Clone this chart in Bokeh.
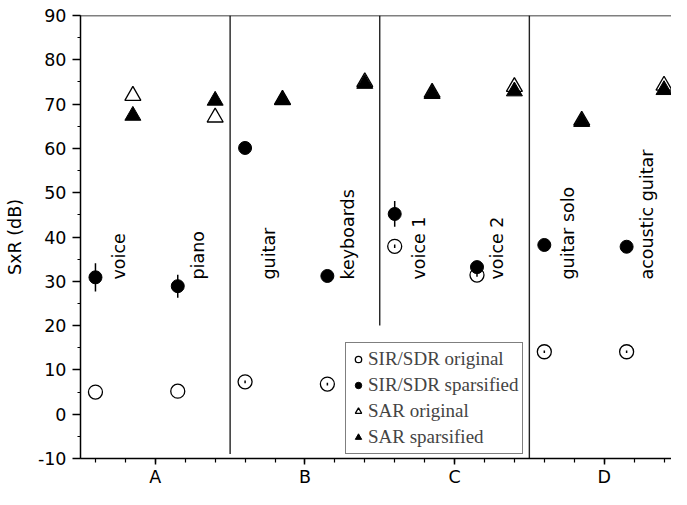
import math
from bokeh.plotting import figure
from bokeh.models import (ColumnDataSource, FixedTicker, SingleIntervalTicker,
                          Span, Legend, LegendItem)
from bokeh.core.properties import value
from bokeh.embed import file_html
from bokeh.resources import INLINE

# ---------------- data ----------------
groups = ["A", "B", "C", "D"]
instruments = ["voice", "piano", "guitar", "keyboards",
               "voice 1", "voice 2", "guitar solo", "acoustic guitar"]
instrument_group = [0, 0, 1, 1, 2, 2, 3, 3]
instrument_slot = [0, 1, 0, 1, 0, 1, 0, 1]

sdr_original = [5.0, 5.2, 7.3, 6.8, 37.9, 31.4, 14.1, 14.1]
sdr_original_err = [0.0, 0.0, 0.3, 0.3, 0.4, 0.4, 0.3, 0.3]
sdr_sparsified = [30.9, 28.9, 60.1, 31.2, 45.2, 33.2, 38.2, 37.8]
sdr_sparsified_err = [3.2, 2.6, 0.8, 0.8, 2.9, 0.8, 0.8, 0.8]
sar_original = [71.9, 67.0, 71.0, 75.0, 72.6, 73.9, 66.3, 74.2]
sar_sparsified = [67.4, 70.8, 70.9, 74.6, 72.3, 72.9, 66.0, 73.2]

divider_x = [1.5, 2.5, 3.5]
divider_bottom = [-9, 20, -10]
divider_top = [90, 90, 90]

# ---------------- layout constants ----------------
CIRCLE_OFF = [-0.4, 0.15]
TRI_OFF = [-0.15, 0.4]
LABEL_OFF = [-0.24, 0.285]
LABEL_Y = 30.4
FONT = "DejaVu Sans"
FS = "17.5px"

gx = [g + 1 for g in instrument_group]
cx = [g + CIRCLE_OFF[s] for g, s in zip(gx, instrument_slot)]
tx = [g + TRI_OFF[s] for g, s in zip(gx, instrument_slot)]
lx = [g + LABEL_OFF[s] for g, s in zip(gx, instrument_slot)]

src = ColumnDataSource(dict(
    cx=cx, tx=tx, lx=lx, ly=[LABEL_Y] * len(instruments), name=instruments,
    so=sdr_original, ss=sdr_sparsified, ao=sar_original, as_=sar_sparsified,
    so_lo=[v - e for v, e in zip(sdr_original, sdr_original_err)],
    so_hi=[v + e for v, e in zip(sdr_original, sdr_original_err)],
    ss_lo=[v - e for v, e in zip(sdr_sparsified, sdr_sparsified_err)],
    ss_hi=[v + e for v, e in zip(sdr_sparsified, sdr_sparsified_err)],
))
div_src = ColumnDataSource(dict(x=divider_x, y0=divider_bottom, y1=divider_top))

p = figure(width=671, height=489, output_backend="svg", toolbar_location=None,
           x_range=(0.5, 4.45), y_range=(-10, 90),
           min_border_left=80, min_border_right=0, min_border_top=15,
           min_border_bottom=28)
p.outline_line_color = None
p.xgrid.grid_line_color = None
p.ygrid.grid_line_color = None
p.background_fill_color = "white"
p.border_fill_color = "white"

# dividers
p.segment(x0="x", y0="y0", x1="x", y1="y1", source=div_src,
          line_color="#222222", line_width=1.4)
p.add_layout(Span(location=90, dimension="width", line_color="black", line_width=1.5))

# markers
r_so = p.scatter("cx", "so", source=src, marker="circle", size=14,
                 fill_color=None, line_color="black", line_width=1.3)
p.segment(x0="cx", y0="so_lo", x1="cx", y1="so_hi", source=src,
          line_color="black", line_width=1.5)
p.segment(x0="cx", y0="ss_lo", x1="cx", y1="ss_hi", source=src,
          line_color="black", line_width=1.5)
r_ss = p.scatter("cx", "ss", source=src, marker="circle", size=13,
                 fill_color="black", line_color="black")
r_ao = p.scatter("tx", "ao", source=src, marker="triangle", size=16,
                 fill_color="white", line_color="black", line_width=1.3)
r_as = p.scatter("tx", "as_", source=src, marker="triangle", size=16,
                 fill_color="black", line_color="black")

p.text(x="lx", y="ly", text="name", source=src, angle=math.pi / 2,
       text_align="left", text_baseline="middle",
       text_font=value(FONT), text_font_size=FS, text_color="black")

# axes
xa = p.xaxis[0]
xa.ticker = FixedTicker(ticks=[1, 2, 3, 4],
                        minor_ticks=[round(0.6 + 0.2 * i, 2) for i in range(20)])
xa.major_label_overrides = {i + 1: g for i, g in enumerate(groups)}
ya = p.yaxis[0]
ya.ticker = SingleIntervalTicker(interval=10, num_minor_ticks=2)
ya.major_label_overrides = {-10: "-10"}
ya.axis_label = "SxR (dB)"
ya.axis_label_text_font_style = "normal"
ya.axis_label_standoff = 10
for ax in (xa, ya):
    ax.axis_line_width = 1.5
    ax.axis_line_color = "black"
    ax.major_tick_line_width = 1.5
    ax.minor_tick_line_width = 1.2
    ax.major_tick_in = 0
    ax.minor_tick_in = 0
    ax.major_label_text_font = FONT
    ax.major_label_text_font_size = FS
    ax.major_label_text_color = "black"
    ax.axis_label_text_font = FONT
    ax.axis_label_text_font_size = FS
    ax.axis_label_text_color = "black"
xa.major_tick_out = 6
xa.minor_tick_out = 4
xa.major_label_standoff = 2
ya.major_tick_out = 8
ya.minor_tick_out = 3
ya.major_label_standoff = 6

legend = Legend(items=[
    LegendItem(label="SIR/SDR original", renderers=[r_so]),
    LegendItem(label="SIR/SDR sparsified", renderers=[r_ss]),
    LegendItem(label="SAR original", renderers=[r_ao]),
    LegendItem(label="SAR sparsified", renderers=[r_as]),
], location=(265, 4))
legend.border_line_color = "black"
legend.border_line_width = 1.5
legend.background_fill_color = "white"
legend.background_fill_alpha = 1
legend.label_text_font = "Liberation Serif"
legend.label_text_font_size = "19px"
legend.glyph_width = 16
legend.glyph_height = 24
legend.label_height = 24
legend.spacing = 2
legend.padding = 4
legend.margin = 0
legend.label_standoff = 2
p.add_layout(legend)

open("out.html", "w").write(file_html(p, INLINE))
